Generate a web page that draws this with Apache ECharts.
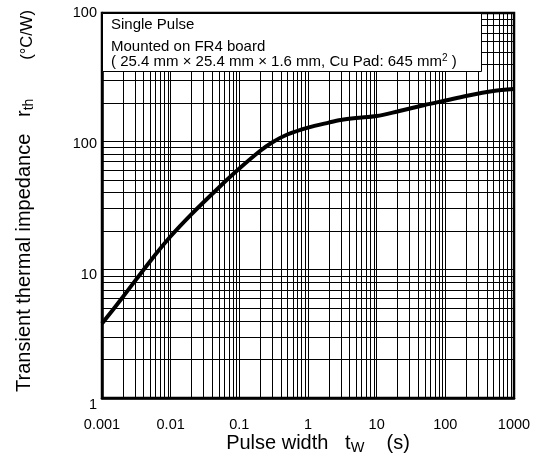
<!DOCTYPE html>
<html><head><meta charset="utf-8">
<script src="https://cdn.jsdelivr.net/npm/echarts@6/dist/echarts.min.js"></script>
<style>html,body{margin:0;padding:0;background:#fff}#c{width:536px;height:466px}</style>
</head><body><div id="c"></div>
<script>
// ---- data ----
const pulseWidth = [0.001, 0.002, 0.005, 0.01, 0.02, 0.05, 0.1, 0.2, 0.3, 0.5, 1, 2, 3, 5, 10, 20, 50, 100, 200, 500, 1000];
const thermalImpedance = [3.8, 6.1, 11.6, 18.2, 27.0, 43.5, 61.3, 84, 98, 113, 128, 140, 146.7, 152, 157.5, 170.8, 192, 208, 225.6, 246.7, 255.8];

const xTickValues = [0.001, 0.01, 0.1, 1, 10, 100, 1000];
const xTickLabels = ['0.001', '0.01', '0.1', '1', '10', '100', '1000'];
const yTickValues = [1, 10, 100, 1000];
const yTickLabels = ['1', '10', '100', '100'];

const xMinorGrid = [
  0.002, 0.003, 0.004, 0.005, 0.006, 0.007, 0.008, 0.009,
  0.02, 0.03, 0.04, 0.05, 0.06, 0.07, 0.08, 0.09,
  0.2, 0.3, 0.4, 0.5, 0.6, 0.7, 0.8, 0.9,
  2, 3, 4, 5, 6, 7, 8, 9,
  20, 30, 40, 50, 60, 70, 80, 90,
  200, 300, 400, 500, 600, 700, 800, 900
];
const yMinorGrid = [
  2, 3, 4, 5, 6, 7, 8, 9,
  20, 30, 40, 50, 60, 70, 80, 90,
  200, 300, 400, 500, 600, 700, 800, 900
];

const noteLines = [
  'Single Pulse',
  'Mounted on FR4 board',
  '( 25.4 mm × 25.4 mm × 1.6 mm, Cu Pad: 645 mm{sup|2} )'
];
const xTitle = 'Pulse width   {i|t}{sub|W}    (s)';
const yTitle = 'Transient thermal impedance   {i|r}{sub|th}       {u|(°C/W)}';

// ---- chart ----
const FONT = 'Liberation Sans, Arial, Helvetica, sans-serif';
const chart = echarts.init(document.getElementById('c'), null, {renderer: 'canvas'});

function indexOfTick(values, v) {
  for (let i = 0; i < values.length; i++) {
    if (Math.abs(Math.log10(v) - Math.log10(values[i])) < 1e-6) return i;
  }
  return -1;
}

const yMin = yTickValues[0], yMax = yTickValues[yTickValues.length - 1];
const xMin = xTickValues[0], xMax = xTickValues[xTickValues.length - 1];

// per-label vertical nudges (style only)
const yLabelPad = [14, 10, 5, 0];
const yLabelRich = {};
yLabelPad.forEach((p, i) => {
  yLabelRich['d' + i] = {fontFamily: FONT, fontSize: 14.5, color: '#000', padding: [p, 0, 0, 0]};
});

const option = {
  animation: false,
  backgroundColor: '#fff',
  grid: {left: 102, right: 22, top: 13, bottom: 68, show: true, borderColor: '#000', borderWidth: 2.5, backgroundColor: 'transparent'},
  xAxis: {
    type: 'log', logBase: 10, min: xMin, max: xMax, interval: 1,
    name: xTitle, nameLocation: 'middle', nameGap: 33, nameMoveOverlap: false,
    nameTextStyle: {
      fontFamily: FONT, fontSize: 20, color: '#000', lineHeight: 24, padding: [0, 0, 0, 20],
      rich: {i: {fontFamily: FONT, fontSize: 20, lineHeight: 24, color: '#000'},
             sub: {fontFamily: FONT, fontSize: 14.5, lineHeight: 14, verticalAlign: 'bottom', color: '#000'}}
    },
    axisLine: {show: true, lineStyle: {color: '#000', width: 2.5}},
    axisTick: {show: false},
    axisLabel: {margin: 19, fontFamily: FONT, fontSize: 14.5, color: '#000',
      formatter: v => { const i = indexOfTick(xTickValues, v); return i < 0 ? '' : xTickLabels[i]; }},
    splitLine: {show: true, lineStyle: {color: '#000', width: 1}}
  },
  yAxis: {
    type: 'log', logBase: 10, min: yMin, max: yMax, interval: 1,
    name: yTitle, nameLocation: 'middle', nameGap: 66, nameMoveOverlap: false,
    nameTextStyle: {
      fontFamily: FONT, fontSize: 20, color: '#000', lineHeight: 24, padding: [0, 0, 0, 9],
      rich: {i: {fontFamily: FONT, fontSize: 20, lineHeight: 24, color: '#000'},
             sub: {fontFamily: FONT, fontSize: 14, lineHeight: 14, verticalAlign: 'bottom', color: '#000'},
             u: {fontFamily: FONT, fontSize: 16.5, lineHeight: 21, verticalAlign: 'bottom', color: '#000'}}
    },
    axisLine: {show: true, lineStyle: {color: '#000', width: 2.5}},
    axisTick: {show: false},
    axisLabel: {margin: 5, fontFamily: FONT, fontSize: 14.5, color: '#000', rich: yLabelRich,
      formatter: v => { const i = indexOfTick(yTickValues, v); return i < 0 ? '' : '{d' + i + '|' + yTickLabels[i] + '}'; }},
    splitLine: {show: true, lineStyle: {color: '#000', width: 1}}
  },
  series: [
    {
      type: 'custom', name: 'xMinor', coordinateSystem: 'cartesian2d', silent: true, z: 1,
      data: xMinorGrid.map(v => [v, yMin]),
      renderItem: function (params, api) {
        const v = api.value(0);
        const p0 = api.coord([v, yMin]);
        const p1 = api.coord([v, yMax]);
        const px = Math.round(p0[0]) + 0.5;
        return {type: 'line', shape: {x1: px, y1: p0[1], x2: px, y2: p1[1]}, style: {stroke: '#000', lineWidth: 1}};
      }
    },
    {
      type: 'custom', name: 'yMinor', coordinateSystem: 'cartesian2d', silent: true, z: 1,
      data: yMinorGrid.map(v => [xMin, v]),
      renderItem: function (params, api) {
        const v = api.value(1);
        const p0 = api.coord([xMin, v]);
        const p1 = api.coord([xMax, v]);
        const py = Math.round(p0[1]) + 0.5;
        return {type: 'line', shape: {x1: p0[0], y1: py, x2: p1[0], y2: py}, style: {stroke: '#000', lineWidth: 1}};
      }
    },
    {
      type: 'line', name: 'rth', z: 5,
      data: pulseWidth.map((t, i) => [t, thermalImpedance[i]]),
      smooth: 0.3, symbol: 'none',
      lineStyle: {color: '#000', width: 4}
    }
  ],
  graphic: {
    elements: [
      {type: 'rect', z: 100, shape: {x: 102.5, y: 13.5, width: 379, height: 58}, style: {fill: '#fff', stroke: '#000', lineWidth: 1}},
      {type: 'text', z: 101, x: 111, y: 25, style: {text: noteLines[0], font: '15px ' + FONT, fill: '#000', verticalAlign: 'middle'}},
      {type: 'text', z: 101, x: 111, y: 47, style: {text: noteLines[1], font: '15px ' + FONT, fill: '#000', verticalAlign: 'middle'}},
      {type: 'text', z: 101, x: 111, y: 62, style: {text: noteLines[2], fontSize: 15, fontFamily: FONT, fill: '#000', verticalAlign: 'middle', lineHeight: 18,
        rich: {sup: {fontSize: 10, fontFamily: FONT, lineHeight: 10, verticalAlign: 'top', fill: '#000'}}}}
    ]
  }
};
chart.setOption(option);
</script>
</body></html>
